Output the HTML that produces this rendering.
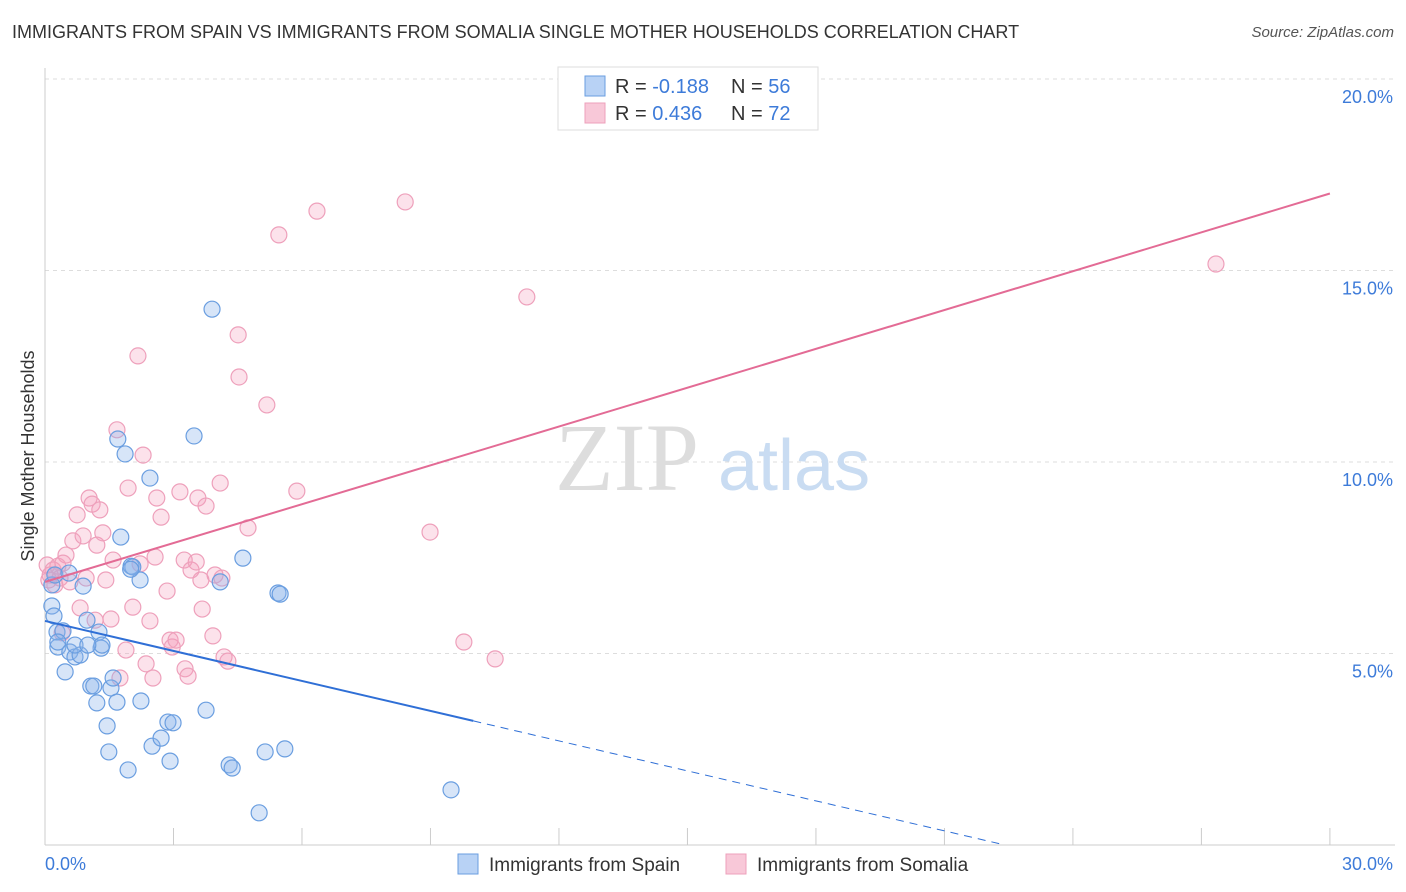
<!DOCTYPE html>
<html><head><meta charset="utf-8">
<style>
body{margin:0;background:#fff;font-family:"Liberation Sans",sans-serif;}
#wrap{position:relative;width:1406px;height:892px;overflow:hidden;}
.title{position:absolute;left:12px;top:22px;font-size:18px;color:#333;}
.source{position:absolute;right:12px;top:24px;font-size:15px;color:#555;font-style:italic;}
</style></head><body>
<div id="wrap">
<div class="title">IMMIGRANTS FROM SPAIN VS IMMIGRANTS FROM SOMALIA SINGLE MOTHER HOUSEHOLDS CORRELATION CHART</div>
<div class="source">Source: ZipAtlas.com</div>
<svg id="chart" width="1406" height="892" style="position:absolute;left:0;top:0"></svg>
</div>
<script>
const spainX=[0.16,0.21,0.28,0.30,0.42,0.47,0.58,0.70,0.82,0.89,0.98,1.07,1.14,1.21,1.26,1.31,1.45,1.49,1.54,1.59,1.68,1.70,1.77,1.87,1.94,2.01,2.05,2.22,2.24,2.45,2.50,2.71,2.87,2.92,2.99,3.48,3.76,3.90,4.09,4.30,4.37,4.62,5.00,5.14,5.44,5.49,5.60,9.48,0.16,0.23,0.56,1.33,0.70,1.00,2.00,0.30];
const spainY=[6.24,5.98,5.56,5.17,5.59,4.52,5.04,4.91,4.96,6.76,5.87,4.15,4.15,3.71,5.56,5.14,3.11,2.43,4.10,4.36,3.73,10.60,8.04,10.21,1.96,7.28,7.26,6.92,3.76,9.58,2.58,2.79,3.21,2.19,3.19,10.68,3.52,13.99,6.87,2.09,2.01,7.49,0.84,2.43,6.58,6.55,2.51,1.44,6.79,7.05,7.10,5.22,5.22,5.22,7.20,5.30];
const somX=[0.05,0.12,0.19,0.23,0.30,0.35,0.49,0.58,0.65,0.75,0.82,0.89,0.96,1.03,1.10,1.17,1.21,1.28,1.35,1.42,1.54,1.68,1.75,1.89,1.94,2.05,2.17,2.22,2.29,2.36,2.45,2.52,2.57,2.61,2.71,2.85,2.92,2.97,3.06,3.15,3.25,3.27,3.34,3.41,3.53,3.57,3.64,3.67,3.76,3.92,3.97,4.09,4.13,4.18,4.27,4.51,4.53,4.74,5.18,5.46,5.88,6.35,8.41,8.99,9.78,10.51,11.25,27.34,0.40,0.09,1.59,0.42];
const somY=[7.31,7.05,7.18,6.79,7.28,6.97,7.57,6.87,7.94,8.62,6.19,8.07,6.97,9.06,8.90,5.87,7.83,8.75,8.15,6.92,5.90,10.84,4.36,5.09,9.32,6.21,12.77,7.34,10.18,4.73,5.85,4.36,7.52,9.06,8.56,6.63,5.35,5.17,5.35,9.22,7.44,4.60,4.41,7.18,7.39,9.06,6.92,6.16,8.85,5.46,7.05,9.45,6.97,4.91,4.80,13.32,12.22,8.28,11.49,15.93,9.24,16.55,16.79,8.17,5.30,4.86,14.31,15.17,5.54,6.92,7.44,7.36];
const yTicks=[5,10,15,20];
const yTickLabels=["5.0%","10.0%","15.0%","20.0%"];
const spainFit=[5.85,-0.261];
const somFit=[6.87,0.338];

const svg=document.getElementById('chart');
const NS='http://www.w3.org/2000/svg';
const X=v=>45+v*42.83, Y=v=>845-v*38.3;
function mk(t,a){const e=document.createElementNS(NS,t);for(const k in a)e.setAttribute(k,a[k]);svg.appendChild(e);return e;}
// gridlines
yTicks.forEach((t,i)=>{
 const g=mk('line',{x1:45,x2:1395,y1:Y(t),y2:Y(t),stroke:'#ddd','stroke-dasharray':'4,4'});
 
 
 const l=mk('text',{x:1393,y:Y(t)+24,'text-anchor':'end','font-size':18,fill:'#3d7bd9'});
 l.textContent=yTickLabels[i];
 
 
});
const ax=mk('line',{x1:45,x2:45,y1:68,y2:845,stroke:'#ccc'});


const bx=mk('line',{x1:45,x2:1395,y1:845,y2:845,stroke:'#ccc'});


for(let i=0;i<=10;i++){
 const t=mk('line',{x1:X(i*3),x2:X(i*3),y1:828,y2:845,stroke:'#ccc'});
 
 
}
// watermark
const wm=mk('text',{x:555,y:490,'font-size':96,fill:'#ddd','font-family':'Liberation Serif, serif'});wm.textContent='ZIP';


const wm2=mk('text',{x:718,y:490,'font-size':72,fill:'#c9dcf2'});wm2.textContent='atlas';


// points
somX.forEach((x,i)=>{const c=mk('circle',{cx:X(x),cy:Y(somY[i]),r:8,fill:'rgba(244,160,190,0.3)',stroke:'#eea0bb','stroke-width':1.2});
 
 });
spainX.forEach((x,i)=>{const c=mk('circle',{cx:X(x),cy:Y(spainY[i]),r:8,fill:'rgba(140,180,235,0.35)',stroke:'#6a9ee0','stroke-width':1.2});
 
 });
// fits
const sEnd=10, sZero=-spainFit[0]/spainFit[1];
const f1=mk('line',{x1:X(0),y1:Y(spainFit[0]),x2:X(sEnd),y2:Y(spainFit[0]+spainFit[1]*sEnd),stroke:'#2f6fd6','stroke-width':2});


const f2=mk('line',{x1:X(sEnd),y1:Y(spainFit[0]+spainFit[1]*sEnd),x2:X(sZero),y2:Y(0),stroke:'#2f6fd6','stroke-width':1,'stroke-dasharray':'8,6'});


const f3=mk('line',{x1:X(0),y1:Y(somFit[0]),x2:X(30),y2:Y(somFit[0]+somFit[1]*30),stroke:'#e36b95','stroke-width':2});


// x labels
const xl0=mk('text',{x:45,y:870,'font-size':18,fill:'#3d7bd9'});xl0.textContent='0.0%';


const xl1=mk('text',{x:1393,y:870,'font-size':18,fill:'#3d7bd9','text-anchor':'end'});xl1.textContent='30.0%';


const yt=mk('text',{x:34,y:456,'font-size':18,fill:'#333','text-anchor':'middle',transform:'rotate(-90 34 456)'});yt.textContent='Single Mother Households';


// top legend
const lb=mk('rect',{x:558,y:67,width:260,height:63,fill:'#fff',stroke:'#ddd'});


[[ '#b8d2f5','#6a9ee0','-0.188','56',86],['#f8c8d8','#eea0bb','0.436','72',113]].forEach(r=>{
 const s=mk('rect',{x:585,y:r[4]-10,width:20,height:20,fill:r[0],stroke:r[1]});
 
 
 const t=mk('text',{x:615,y:r[4]+7,'font-size':20,fill:'#333'});
 t.innerHTML='R = <tspan fill="#3d7bd9"> '+r[2]+'</tspan><tspan x="731">N = </tspan><tspan fill="#3d7bd9">'+r[3]+'</tspan>';
 
 
});
// bottom legend
[[458,'#b8d2f5','#6a9ee0','Immigrants from Spain'],[726,'#f8c8d8','#eea0bb','Immigrants from Somalia']].forEach(r=>{
 const s=mk('rect',{x:r[0],y:854,width:20,height:20,fill:r[1],stroke:r[2]});
 
 
 const t=mk('text',{x:r[0]+31,y:871,'font-size':19,fill:'#333'});t.textContent=r[3];
 
 
});
</script>
</body></html>
